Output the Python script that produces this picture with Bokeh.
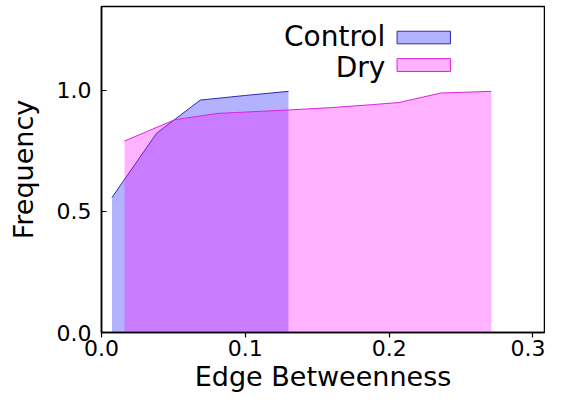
from bokeh.plotting import figure
from bokeh.models import Range1d, FixedTicker, PrintfTickFormatter, Label, BoxAnnotation
from bokeh.embed import file_html
from bokeh.resources import INLINE

# Data
control_x = [0.0073, 0.0383, 0.0687, 0.100, 0.130]
control_y = [0.557, 0.822, 0.959, 0.978, 0.995]
dry_x = [0.016, 0.051, 0.081, 0.130, 0.160, 0.188, 0.207, 0.236, 0.271]
dry_y = [0.790, 0.878, 0.904, 0.918, 0.928, 0.940, 0.949, 0.988, 0.995]
series_names = ["Control", "Dry"]
x_ticks = [0.0, 0.1, 0.2, 0.3]
y_ticks = [0.0, 0.5, 1.0]

FONT = "DejaVu Sans"

p = figure(width=545, height=394, output_backend="svg", toolbar_location=None,
           x_range=Range1d(0, 0.308), y_range=Range1d(0, 1.345),
           min_border_left=101, min_border_right=1, min_border_top=6, min_border_bottom=60)
p.grid.visible = False
p.outline_line_color = "black"
p.outline_line_width = 1.5
p.background_fill_color = "white"

blue_fill, blue_line = "blue", "#2b2bb0"
mag_fill, mag_line = "magenta", "#dd22dd"

p.varea(x=control_x, y1=[0] * len(control_x), y2=control_y, fill_color=blue_fill, fill_alpha=0.3)
p.line(control_x, control_y, line_color=blue_line, line_width=1)
p.varea(x=dry_x, y1=[0] * len(dry_x), y2=dry_y, fill_color=mag_fill, fill_alpha=0.3)
p.line(dry_x, dry_y, line_color=mag_line, line_width=1)

for ax in (p.xaxis[0], p.yaxis[0]):
    ax.axis_line_color = "black"
    ax.axis_line_width = 1.5
    ax.major_tick_line_color = "black"
    ax.major_tick_line_width = 1.2
    ax.minor_tick_line_color = None
    ax.major_label_text_font = FONT
    ax.major_label_text_font_size = "22px"
    ax.major_label_text_color = "black"
    ax.axis_label_text_font = FONT
    ax.axis_label_text_font_size = "27px"
    ax.axis_label_text_font_style = "normal"
    ax.axis_label_text_color = "black"
    ax.formatter = PrintfTickFormatter(format="%.1f")

p.xaxis.ticker = FixedTicker(ticks=x_ticks)
p.yaxis.ticker = FixedTicker(ticks=y_ticks)
p.xaxis.major_tick_out = 5
p.xaxis.major_tick_in = 0
p.xaxis.major_label_standoff = 2
p.xaxis.axis_label_standoff = 2
p.yaxis.major_tick_in = 5
p.yaxis.major_tick_out = 0
p.yaxis.major_label_standoff = 10
p.yaxis.axis_label_standoff = 15
p.xaxis.axis_label = "Edge Betweenness"
p.yaxis.axis_label = "Frequency"

# Legend (label left of patch, as in the reference)
leg = [(series_names[0], 1.2225, 1.191, 1.243, blue_fill, blue_line),
       (series_names[1], 1.093, 1.077, 1.130, mag_fill, mag_line)]
for name, ty, b, t, fc, lc in leg:
    p.add_layout(Label(x=0.1973, y=ty, text=name, text_align="right", text_baseline="alphabetic",
                       text_font=FONT, text_font_size="28px", text_color="black"))
    p.add_layout(BoxAnnotation(left=0.2055, right=0.2426, bottom=b, top=t,
                               fill_color=fc, fill_alpha=0.3, line_color=lc, line_width=1, line_alpha=1))

open("out.html", "w").write(file_html(p, INLINE))
